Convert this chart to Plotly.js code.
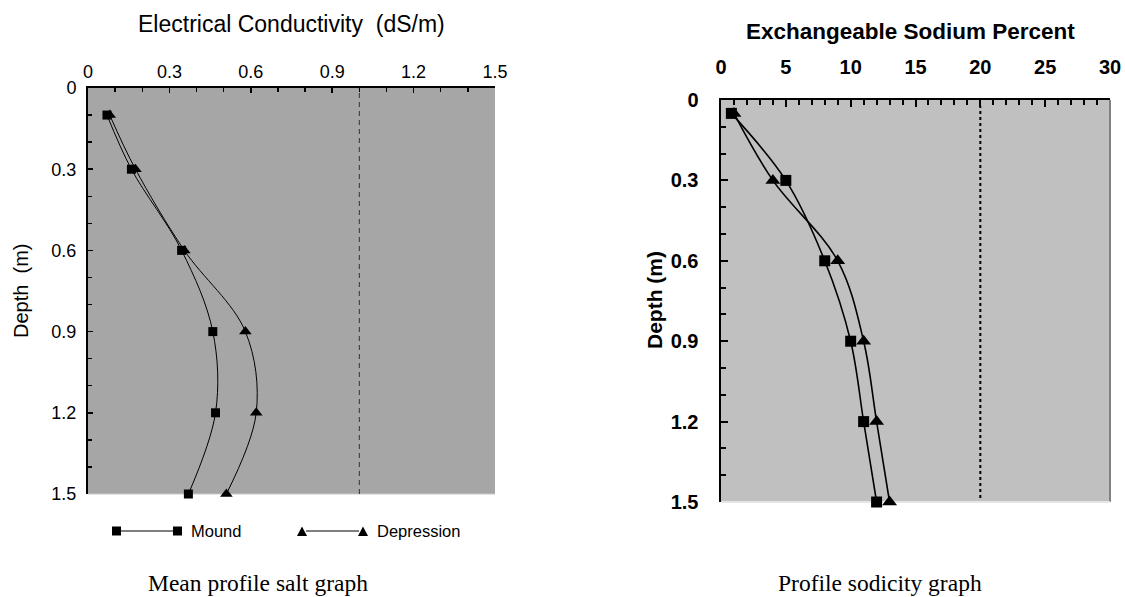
<!DOCTYPE html>
<html><head><meta charset="utf-8">
<script src="https://cdn.plot.ly/plotly-3.0.1.min.js"></script>
<style>html,body{margin:0;padding:0;background:#fff}</style>
</head><body>
<div id="chart" style="width:1125px;height:597px"></div>
<script>
// ---- Data ----
const ecDepth = [0.1, 0.3, 0.6, 0.9, 1.2, 1.5];
const ecMound = [0.07, 0.16, 0.345, 0.46, 0.47, 0.37];
const ecDepression = [0.08, 0.175, 0.355, 0.58, 0.62, 0.51];
const ecThreshold = 1.0;

const espDepth = [0.05, 0.3, 0.6, 0.9, 1.2, 1.5];
const espMound = [0.8, 5, 8, 10, 11, 12];
const espDepression = [1, 4, 9, 11, 12, 13];
const espThreshold = 20;

const seriesNames = ["Mound", "Depression"];
const titles = {
  ec: "Electrical Conductivity\u00a0 (dS/m)",
  ecY: "Depth\u00a0 (m)",
  esp: "Exchangeable Sodium Percent",
  espY: "Depth (m)",
  capL: "Mean profile salt graph",
  capR: "Profile sodicity graph"
};

// ---- Layout helpers ----
const W = 1125, H = 597;
const fx = p => p / W, fy = p => 1 - p / H;
const sans = "Liberation Sans, Arial, Helvetica, sans-serif";
const serif = "Liberation Serif, Times New Roman, serif";

const lineL = {color: "#000", width: 1, shape: "spline", smoothing: 1};
const lineR = {color: "#000", width: 1.6, shape: "spline", smoothing: 1};

const traces = [
  {x: ecMound, y: ecDepth, xaxis: "x", yaxis: "y", mode: "lines+markers", name: seriesNames[0],
   line: lineL, marker: {symbol: "square", size: 9, color: "#000"}, cliponaxis: false, showlegend: false},
  {x: ecDepression, y: ecDepth, xaxis: "x", yaxis: "y", mode: "lines+markers", name: seriesNames[1],
   line: lineL, marker: {symbol: "triangle-up", size: 11, color: "#000"}, cliponaxis: false, showlegend: false},
  {x: espMound, y: espDepth, xaxis: "x2", yaxis: "y2", mode: "lines+markers", name: seriesNames[0],
   line: lineR, marker: {symbol: "square", size: 11, color: "#000"}, cliponaxis: false, showlegend: false},
  {x: espDepression, y: espDepth, xaxis: "x2", yaxis: "y2", mode: "lines+markers", name: seriesNames[1],
   line: lineR, marker: {symbol: "triangle-up", size: 13, color: "#000"}, cliponaxis: false, showlegend: false}
];

const axL = {
  showgrid: false, zeroline: false, showline: true, linecolor: "#000", linewidth: 2,
  ticks: "inside", ticklen: 5, tickwidth: 1.5, tickcolor: "#000",
  tickfont: {family: sans, size: 18, color: "#000"}
};
const axR = {
  showgrid: false, zeroline: false, showline: true, linecolor: "#000", linewidth: 2.5,
  ticks: "inside", ticklen: 7, tickwidth: 2, tickcolor: "#000",
  tickfont: {family: sans, size: 20, color: "#000", weight: "bold"}
};

const layout = {
  width: W, height: H,
  margin: {l: 0, r: 0, t: 0, b: 0},
  paper_bgcolor: "#fff", plot_bgcolor: "rgba(0,0,0,0)",
  showlegend: false,
  xaxis: Object.assign({}, axL, {domain: [fx(88), fx(495)], anchor: "y", side: "top",
    range: [0, 1.5], tick0: 0, dtick: 0.3, ticklabelstandoff: 1,
    minor: {dtick: 0.1, ticks: "inside", ticklen: 4, tickwidth: 1.5, tickcolor: "#000"}}),
  yaxis: Object.assign({}, axL, {domain: [fy(494), fy(88)], anchor: "x",
    range: [1.5, 0], tick0: 0, dtick: 0.3, ticklabelstandoff: 6,
    minor: {dtick: 0.1, ticks: "inside", ticklen: 4, tickwidth: 1.5, tickcolor: "#000"}}),
  xaxis2: Object.assign({}, axR, {domain: [fx(721), fx(1110)], anchor: "y2", side: "top",
    range: [0, 30], tick0: 0, dtick: 5, ticklabelstandoff: 16,
    minor: {dtick: 1, ticks: "inside", ticklen: 5, tickwidth: 2, tickcolor: "#000"}}),
  yaxis2: Object.assign({}, axR, {domain: [fy(502), fy(100)], anchor: "x2",
    range: [1.5, 0], tick0: 0, dtick: 0.3, ticklabelstandoff: 16,
    minor: {dtick: 0.1, ticks: "inside", ticklen: 5, tickwidth: 2, tickcolor: "#000"}}),
  shapes: [
    // plot backgrounds
    {type: "rect", xref: "x domain", yref: "y domain", x0: 0, x1: 1, y0: 0, y1: 1,
     fillcolor: "#a6a6a6", line: {width: 0}, layer: "below"},
    {type: "rect", xref: "x2 domain", yref: "y2 domain", x0: 0, x1: 1, y0: 0, y1: 1,
     fillcolor: "#c0c0c0", line: {width: 0}, layer: "below"},
    // right plot frame: grey right edge, light bottom edge
    {type: "line", xref: "x2 domain", yref: "y2 domain", x0: 1, x1: 1, y0: 0, y1: 1,
     line: {color: "#808080", width: 2}, layer: "below"},
    {type: "line", xref: "x2 domain", yref: "y2 domain", x0: 0, x1: 1, y0: 0, y1: 0,
     line: {color: "#e6e6e6", width: 2}, layer: "below"},
    {type: "line", xref: "x domain", yref: "y domain", x0: 0, x1: 1, y0: 0, y1: 0,
     line: {color: "#c8c8c8", width: 1}, layer: "below"},
    // threshold lines
    {type: "line", xref: "x", yref: "y domain", x0: ecThreshold, x1: ecThreshold, y0: 0, y1: 1,
     line: {color: "#333", width: 1, dash: "5px,4px"}, layer: "below"},
    {type: "line", xref: "x2", yref: "y2 domain", x0: espThreshold, x1: espThreshold, y0: 0.01, y1: 0.985,
     line: {color: "#000", width: 2, dash: "3px,3px"}, layer: "below"},
    // legend keys (left chart)
    {type: "line", xref: "paper", yref: "paper", x0: fx(120), x1: fx(174), y0: fy(531), y1: fy(531),
     line: {color: "#000", width: 1}},
    {type: "rect", xref: "paper", yref: "paper", x0: fx(112), x1: fx(121), y0: fy(535.5), y1: fy(526.5),
     fillcolor: "#000", line: {width: 0}},
    {type: "rect", xref: "paper", yref: "paper", x0: fx(173), x1: fx(182), y0: fy(535.5), y1: fy(526.5),
     fillcolor: "#000", line: {width: 0}},
    {type: "line", xref: "paper", yref: "paper", x0: fx(306), x1: fx(359), y0: fy(531), y1: fy(531),
     line: {color: "#000", width: 1}},
    {type: "path", xref: "paper", yref: "paper",
     path: `M ${fx(297)} ${fy(536)} L ${fx(307)} ${fy(536)} L ${fx(302)} ${fy(526.5)} Z`,
     fillcolor: "#000", line: {width: 0}},
    {type: "path", xref: "paper", yref: "paper",
     path: `M ${fx(358)} ${fy(536)} L ${fx(368)} ${fy(536)} L ${fx(363)} ${fy(526.5)} Z`,
     fillcolor: "#000", line: {width: 0}}
  ],
  annotations: [
    {text: titles.ec, xref: "paper", yref: "paper", x: fx(291), y: fy(24), xanchor: "center", yanchor: "middle",
     showarrow: false, font: {family: sans, size: 23, color: "#000"}},
    {text: titles.ecY, xref: "paper", yref: "paper", x: fx(21), y: fy(291), xanchor: "center", yanchor: "middle",
     textangle: -90, showarrow: false, font: {family: sans, size: 20, color: "#000"}},
    {text: titles.esp, xref: "paper", yref: "paper", x: fx(910), y: fy(32), xanchor: "center", yanchor: "middle",
     showarrow: false, font: {family: sans, size: 22.5, color: "#000", weight: "bold"}},
    {text: titles.espY, xref: "paper", yref: "paper", x: fx(654), y: fy(300), xanchor: "center", yanchor: "middle",
     textangle: -90, showarrow: false, font: {family: sans, size: 21, color: "#000", weight: "bold"}},
    {text: seriesNames[0], xref: "paper", yref: "paper", x: fx(189), y: fy(531), xanchor: "left", yanchor: "middle",
     showarrow: false, font: {family: sans, size: 16.5, color: "#000"}},
    {text: seriesNames[1], xref: "paper", yref: "paper", x: fx(375), y: fy(531), xanchor: "left", yanchor: "middle",
     showarrow: false, font: {family: sans, size: 16.5, color: "#000"}},
    {text: titles.capL, xref: "paper", yref: "paper", x: fx(258), y: fy(583), xanchor: "center", yanchor: "middle",
     showarrow: false, font: {family: serif, size: 23.5, color: "#000"}},
    {text: titles.capR, xref: "paper", yref: "paper", x: fx(880), y: fy(583), xanchor: "center", yanchor: "middle",
     showarrow: false, font: {family: serif, size: 23.5, color: "#000"}}
  ]
};

Plotly.newPlot("chart", traces, layout, {displayModeBar: false, staticPlot: true});
</script>
</body></html>
